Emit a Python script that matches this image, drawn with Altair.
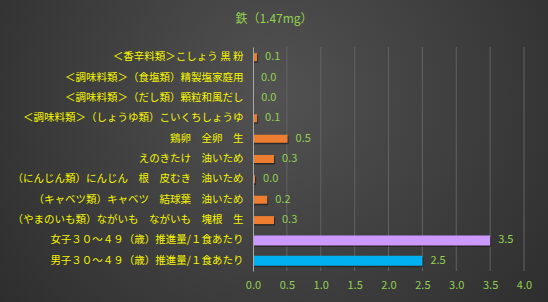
import altair as alt
import pandas as pd

categories = [
    "＜香辛料類＞こしょう 黒 粉　",
    "＜調味料類＞（食塩類）精製塩家庭用",
    "＜調味料類＞（だし類）顆粒和風だし",
    "＜調味料類＞（しょうゆ類）こいくちしょうゆ",
    "鶏卵　全卵　生",
    "えのきたけ　油いため",
    "（にんじん類）にんじん　根　皮むき　油いため",
    "（キャベツ類）キャベツ　結球葉　油いため",
    "（やまのいも類）ながいも　ながいも　塊根　生",
    "女子３０～４９（歳）推進量/１食あたり",
    "男子３０～４９（歳）推進量/１食あたり",
]
values = [0.06, 0.0, 0.003, 0.06, 0.51, 0.31, 0.03, 0.21, 0.31, 3.5, 2.5]
kinds = ["food"] * 9 + ["female", "male"]
title_text = "鉄（1.47mg）"
x_ticks = [0.5, 1.0, 1.5, 2.0, 2.5, 3.0, 3.5, 4.0]
axis_values = [0.0, 0.5, 1.0, 1.5, 2.0, 2.5, 3.0, 3.5, 4.0]

df = pd.DataFrame({"cat": categories, "val": values, "kind": kinds})
grid_df = pd.DataFrame({"t": x_ticks})

FONT = "Noto Sans CJK JP"
W, H = 271, 224
L, T = 253, 47
TOTW, TOTH = 548, 302

xscale = alt.Scale(domain=[0, 4], nice=False, zero=True)
yscale = alt.Scale(paddingInner=0, paddingOuter=0)

x_axis = alt.Axis(values=axis_values, format=".1f", grid=False, domain=False, ticks=False,
                  labelColor="#92D050", labelFont=FONT, labelFontSize=11, labelPadding=8,
                  labelFlush=False, labelOverlap=False, title=None, zindex=1)
y_axis = alt.Axis(title=None, ticks=False, domainColor="#a8a8a8", domainWidth=1,
                  labelColor="#F5F500", labelFont=FONT, labelFontSize=10.5, labelLimit=320,
                  labelPadding=10, zindex=1)

xenc = alt.X("val:Q", scale=xscale, axis=x_axis)
yenc = alt.Y("cat:N", sort=categories, scale=yscale, axis=y_axis)

bg = alt.Chart(pd.DataFrame({"a": [0]})).mark_rect(
    fill=alt.RadialGradient(
        gradient="radial",
        stops=[alt.GradientStop(offset=0, color="#525252"),
               alt.GradientStop(offset=1, color="#252525")],
        x1=0.5, y1=0.4, x2=0.5, y2=0.4, r1=0, r2=0.78,
    ),
    clip=False,
).encode(x=alt.value(-L), x2=alt.value(TOTW - L), y=alt.value(-T), y2=alt.value(TOTH - T))

grid = alt.Chart(grid_df).mark_rule(color="#626262", strokeWidth=1).encode(
    x=alt.X("t:Q", scale=xscale, axis=x_axis), y=alt.value(0), y2=alt.value(H)
)

base = alt.Chart(df)

shadow_food = base.transform_filter(alt.datum.kind == "food").mark_bar(
    color="#111111", opacity=0.55, size=8, yOffset=1.5, xOffset=1
).encode(x=xenc, y=yenc)
bars_food = base.transform_filter(alt.datum.kind == "food").mark_bar(
    color="#ED7D31", size=8
).encode(x=xenc, y=yenc)

shadow_ref = base.transform_filter(alt.datum.kind != "food").mark_bar(
    color="#111111", opacity=0.5, size=10, yOffset=1.5, xOffset=1
).encode(x=xenc, y=yenc)
bars_ref = base.transform_filter(alt.datum.kind != "food").mark_bar(size=10).encode(
    x=xenc, y=yenc,
    color=alt.Color("kind:N", scale=alt.Scale(domain=["female", "male"],
                                              range=["#CC99FF", "#00B0F0"]), legend=None),
)

labels = base.mark_text(align="left", baseline="middle", dx=8, font=FONT, fontSize=11,
                        color="#92D050").encode(
    x=xenc, y=yenc, text=alt.Text("val:Q", format=".1f")
)

title = alt.Chart(pd.DataFrame({"t": [title_text]})).mark_text(
    font=FONT, fontSize=12, color="#92D050", align="center", baseline="middle"
).encode(text="t:N", x=alt.value(274 - L), y=alt.value(19 - T))

chart = alt.layer(bg, grid, shadow_food, bars_food, shadow_ref, bars_ref, labels, title).properties(
    width=W, height=H,
    padding={"left": L, "top": T, "right": TOTW - L - W, "bottom": TOTH - T - H},
    autosize=alt.AutoSizeParams(type="none"),
    background="#262626",
).configure_view(stroke=None)

chart.save("out.html", embed_options={"renderer": "svg", "actions": False})
